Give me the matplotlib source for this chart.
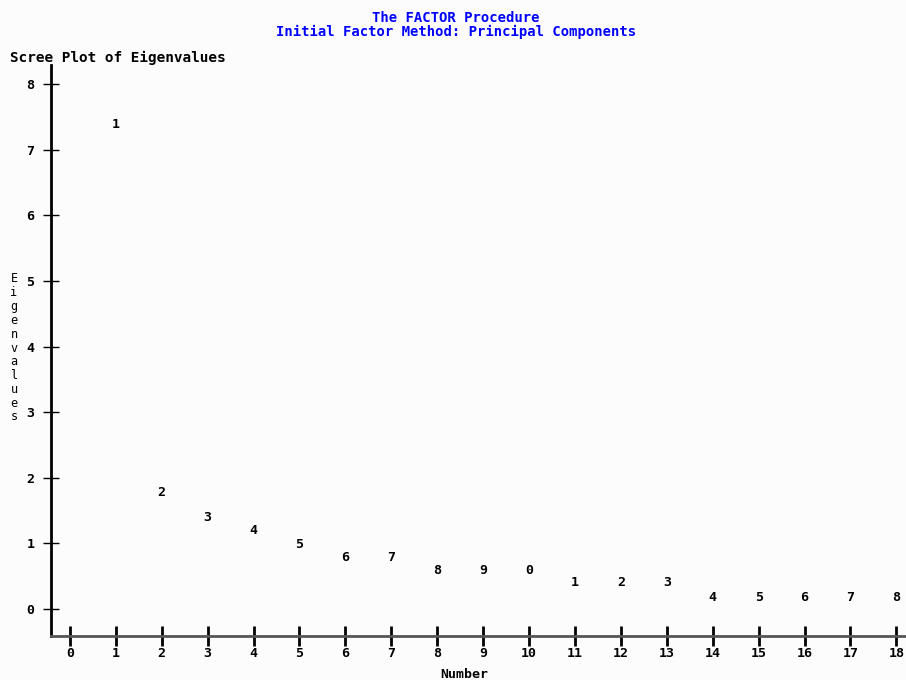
import matplotlib.pyplot as plt

# eigenvalues as plotted (line-printer positions)
numbers = list(range(1, 19))
eigenvalues = [7.39, 1.78, 1.39, 1.19, 0.99, 0.79, 0.79, 0.59, 0.59, 0.59,
               0.40, 0.40, 0.40, 0.18, 0.18, 0.18, 0.18, 0.18]
x_ticks = list(range(0, 19))
y_ticks = list(range(0, 9))

mono = ['DejaVu Sans Mono']
blue = '#0000FF'

fig = plt.figure(figsize=(9.06, 6.8), dpi=100, facecolor='#FCFCFC')
ax = fig.add_axes([51 / 906, 1 - 636 / 680, (906 - 51) / 906, (636 - 65) / 680])
ax.set_facecolor('#FCFCFC')
ax.set_xlim(-0.41, 18.21)
ax.set_ylim(-0.41, 8.29)

# plot symbol = last digit of the component number
for n, ev in zip(numbers, eigenvalues):
    ax.text(n, ev, str(n % 10), ha='center', va='center', fontsize=9.5,
            fontweight='bold', family=mono)

ax.spines['top'].set_visible(False)
ax.spines['right'].set_visible(False)
ax.spines['left'].set_linewidth(2)
ax.spines['bottom'].set_linewidth(2)
ax.spines['bottom'].set_color('#555555')

ax.set_xticks(x_ticks)
ax.set_yticks(y_ticks)
ax.tick_params(axis='x', direction='inout', length=14, width=2, labelsize=9.5, pad=1)
ax.tick_params(axis='y', direction='inout', length=12, width=1, labelsize=9.5, pad=6)
for lab in ax.get_xticklabels() + ax.get_yticklabels():
    lab.set_fontweight('bold')
    lab.set_family(mono)

fig.text(456 / 906, 1 - 18 / 680, 'The FACTOR Procedure', color=blue, ha='center',
         va='center', fontsize=10, fontweight='bold', family=mono)
fig.text(456 / 906, 1 - 32 / 680, 'Initial Factor Method: Principal Components',
         color=blue, ha='center', va='center', fontsize=10, fontweight='bold',
         family=mono)
fig.text(10 / 906, 1 - 58 / 680, 'Scree Plot of Eigenvalues', ha='left',
         va='center', fontsize=10.4, fontweight='bold', family=mono)
fig.text(464 / 906, 1 - 675 / 680, 'Number', ha='center', va='center',
         fontsize=9.5, fontweight='bold', family=mono)
fig.text(14 / 906, 1 - 348 / 680, '\n'.join('Eigenvalues'), ha='center',
         va='center', fontsize=8.5, family=mono, linespacing=1.08)

fig.savefig('out.png', dpi=100, facecolor=fig.get_facecolor())
